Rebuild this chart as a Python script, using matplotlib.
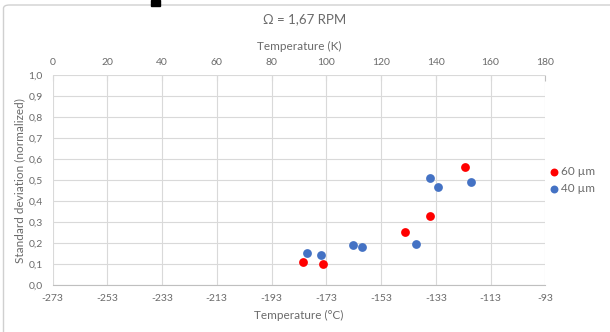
import matplotlib
matplotlib.use("Agg")
import matplotlib.pyplot as plt
from matplotlib.patches import FancyBboxPatch, Rectangle

# data (x in kelvin)
red_k = [91.5, 98.8, 128.8, 137.9, 150.7]
red_sd = [0.112, 0.103, 0.252, 0.329, 0.565]
blue_k = [93.0, 97.9, 109.8, 113.0, 132.9, 137.9, 140.8, 152.7]
blue_sd = [0.154, 0.146, 0.193, 0.182, 0.195, 0.51, 0.47, 0.49]

kelvin_ticks = [0, 20, 40, 60, 80, 100, 120, 140, 160, 180]
celsius_labels = ["-273", "-253", "-233", "-213", "-193", "-173", "-153", "-133", "-113", "-93"]
y_ticks = [0.0, 0.1, 0.2, 0.3, 0.4, 0.5, 0.6, 0.7, 0.8, 0.9, 1.0]
y_labels = ["0,0", "0,1", "0,2", "0,3", "0,4", "0,5", "0,6", "0,7", "0,8", "0,9", "1,0"]

plt.rcParams['font.family'] = ['Lato', 'DejaVu Sans']
txt = '#6a6a6a'
grid = '#d9d9d9'

W, H = 610, 332
fig = plt.figure(figsize=(W / 100, H / 100), dpi=100)
ax = fig.add_axes([52.5 / W, 1 - 285.3 / H, (545.3 - 52.5) / W, (285.3 - 75.3) / H])

ax.scatter(red_k, red_sd, s=40, color='#ff0000', label='60 µm', zorder=3, linewidths=0)
ax.scatter(blue_k, blue_sd, s=40, color='#4472c4', label='40 µm', zorder=3, linewidths=0)

ax.set_xlim(0, 180)
ax.set_ylim(0, 1.0)
ax.set_xticks(kelvin_ticks)
ax.set_xticklabels(celsius_labels)
ax.set_yticks(y_ticks)
ax.set_yticklabels(y_labels)
ax.grid(True, color=grid, linewidth=0.8)
ax.set_axisbelow(True)
for s in ['top', 'right', 'left']:
    ax.spines[s].set_visible(False)
ax.spines['bottom'].set_color('#bfbfbf')
ax.tick_params(axis='both', colors=txt, labelsize=7.5, length=0, pad=6)
ax.tick_params(axis='y', pad=7)
ax.set_xlabel('Temperature (°C)', color=txt, fontsize=8.5, labelpad=5)
ax.set_ylabel('Standard deviation (normalized)', color=txt, fontsize=8.5, labelpad=2)

top = ax.secondary_xaxis('top')
top.set_xticks(kelvin_ticks)
top.set_xticklabels([str(k) for k in kelvin_ticks])
top.tick_params(colors=txt, labelsize=7.5, length=4, direction='in', pad=6)
top.tick_params(axis='x', color='#bfbfbf')
top.spines['top'].set_visible(False)
top.set_xlabel('Temperature (K)', color=txt, fontsize=8.5, labelpad=6)

fig.text(305 / W, 1 - 19 / H, 'Ω = 1,67 RPM', color=txt, fontsize=9.5,
         ha='center', va='center')

fig.legend(loc='center left', bbox_to_anchor=(549 / W, 1 - 180 / H), frameon=False,
           fontsize=8.5, labelcolor=txt, handletextpad=0.1, handlelength=0.9,
           labelspacing=0.45, markerscale=0.9, borderaxespad=0, borderpad=0)

# chart border and the stray dark mark at the top edge
fig.patches.append(FancyBboxPatch((3.5 / W, -0.05), 1.2, 1 - 5 / H + 0.05,
                                  boxstyle='round,pad=0,rounding_size=0.01',
                                  transform=fig.transFigure, fill=False,
                                  edgecolor='#d0d0d0', linewidth=1.0))
fig.patches.append(Rectangle((151 / W, 1 - 6 / H), 9 / W, 6 / H,
                             transform=fig.transFigure, color='black'))

fig.savefig('out.png', dpi=100)
